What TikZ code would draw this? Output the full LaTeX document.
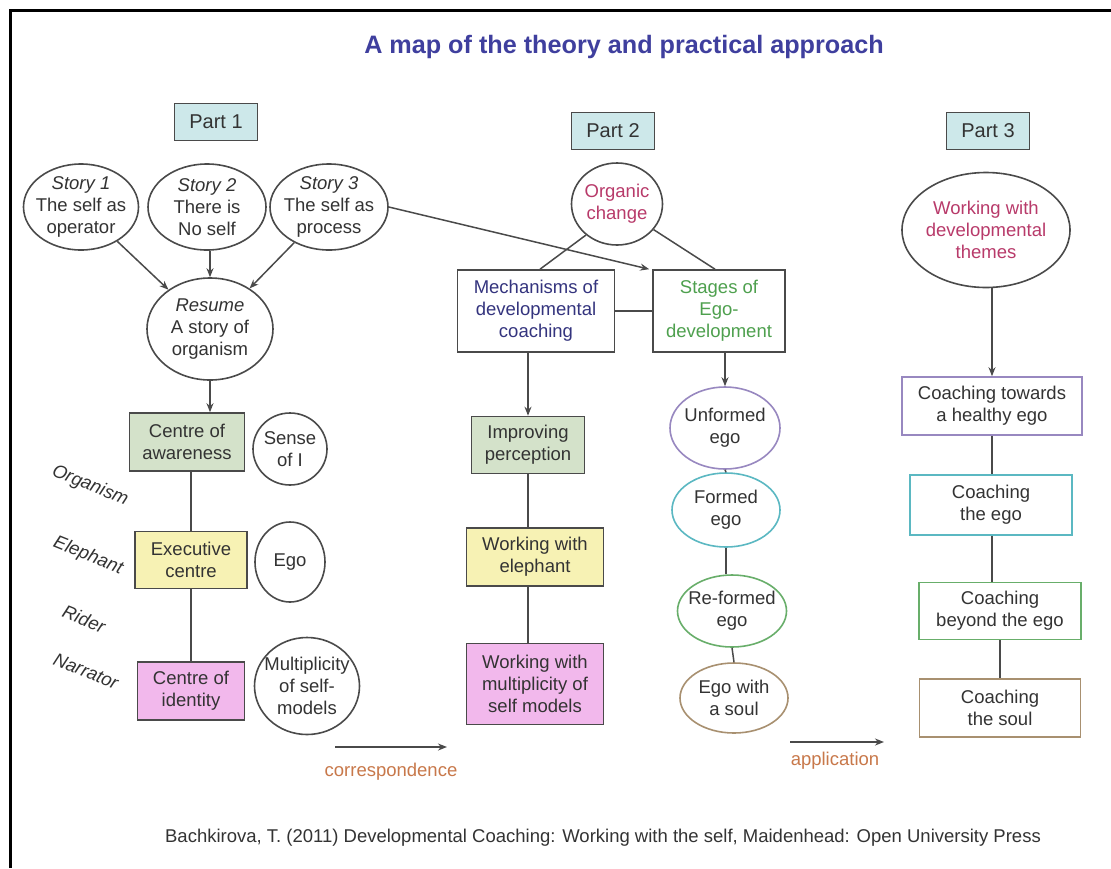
\documentclass[tikz,border=0pt]{standalone}
\usepackage{fontspec}
\setmainfont{Liberation Sans}
\usetikzlibrary{shapes.geometric,arrows.meta,calc}

\definecolor{ink}{HTML}{333333}
\definecolor{edgec}{HTML}{4A4A4A}
\definecolor{titleblue}{HTML}{3F3F9E}
\definecolor{partfill}{HTML}{CDE8EA}
\definecolor{greenfill}{HTML}{D4E2CA}
\definecolor{yellowfill}{HTML}{F7F2B4}
\definecolor{pinkfill}{HTML}{F2B8EC}
\definecolor{crimson}{HTML}{B83A6A}
\definecolor{navy}{HTML}{34347E}
\definecolor{leaf}{HTML}{4EA04E}
\definecolor{lilac}{HTML}{9888C0}
\definecolor{tealc}{HTML}{5BB8C2}
\definecolor{sage}{HTML}{68AE6A}
\definecolor{tanc}{HTML}{A89070}
\definecolor{rust}{HTML}{C8784A}

\newcommand\diagfont{\fontsize{18.5}{22}\selectfont}
\newcommand\partfont{\fontsize{20}{24}\selectfont}

\tikzset{
  every node/.style={font=\diagfont, text=ink},
  oval/.style={ellipse, draw=edgec, line width=1.6pt, inner sep=-30pt, align=center},
  box/.style={rectangle, draw=edgec, line width=1.6pt, inner sep=2pt, align=center},
  partbox/.style={box, fill=partfill, minimum width=83pt, minimum height=37pt, font=\partfont},
  link/.style={draw=edgec, line width=1.5pt},
  arr/.style={link, -{Stealth[length=9pt,width=7pt]}},
  side/.style={font=\diagfont\itshape, rotate=-22},
  note/.style={text=rust},
}

\begin{document}
\begin{tikzpicture}[x=1pt,y=-1pt]
  \useasboundingbox (0,0) rectangle (1111,868);
  \fill[white] (0,0) rectangle (1111,868);
  % frame
  \draw[line width=3pt, black] (10,868) -- (10,10) -- (1111,10);

  % title
  \node[font=\fontsize{25.2}{29}\selectfont\bfseries, text=titleblue] (title) at (624,47) {A map of the theory and practical approach};

  % part headers
  \node[partbox] (p1) at (216,122) {Part 1};
  \node[partbox] (p2) at (613,131) {Part 2};
  \node[partbox] (p3) at (988,131) {Part 3};

  % ---- Part 1 ----
  \node[oval, minimum width=115pt, minimum height=86pt] (s1) at (81,207) {\textit{Story 1}\\The self as\\operator};
  \node[oval, minimum width=118pt, minimum height=86pt] (s2) at (207,207) {\textit{Story 2}\\There is\\No self};
  \node[oval, minimum width=118pt, minimum height=86pt] (s3) at (329,207) {\textit{Story 3}\\The self as\\process};
  \node[oval, minimum width=126pt, minimum height=102pt] (res) at (210,329) {\textit{Resume}\\A story of\\organism};

  \node[box, fill=greenfill, minimum width=115pt, minimum height=58pt] (ca) at (187,442) {Centre of\\awareness};
  \node[box, fill=yellowfill, minimum width=112pt, minimum height=57pt] (ec) at (191,560) {Executive\\centre};
  \node[box, fill=pinkfill, minimum width=107pt, minimum height=58pt] (ci) at (191,691) {Centre of\\identity};

  \node[oval, minimum width=74pt, minimum height=72pt] (si) at (290,449) {Sense\\of I};
  \node[oval, minimum width=70pt, minimum height=80pt] (eg) at (290,562) {Ego};
  \node[oval, minimum width=105pt, minimum height=97pt] (ms) at (307,686) {Multiplicity\\of self-\\models};

  \node[side] (l1) at (90,486) {Organism};
  \node[side] (l2) at (88,556) {Elephant};
  \node[side] (l3) at (84,619) {Rider};
  \node[side] (l4) at (86,671) {Narrator};

  \draw[arr] (s1) -- (res);
  \draw[arr] (res.north |- s2.south) -- (res.north);
  \draw[arr] (s3) -- (res);
  \draw[arr] (res.south) -- (res.south |- ca.north);
  \draw[link] (ec.north |- ca.south) -- (ec.north);
  \draw[link] (ec.south) -- (ec.south |- ci.north);

  % ---- Part 2 ----
  \node[oval, minimum width=91pt, minimum height=82pt, text=crimson] (oc) at (617,204) {Organic\\change};
  \node[box, minimum width=157pt, minimum height=82pt, text=navy] (mech) at (536,311) {Mechanisms of\\developmental\\coaching};
  \node[box, minimum width=132pt, minimum height=82pt, text=leaf] (st) at (719,311) {Stages of\\Ego-\\development};

  \node[box, fill=greenfill, minimum width=113pt, minimum height=57pt] (ip) at (528,445) {Improving\\perception};
  \node[box, fill=yellowfill, minimum width=137pt, minimum height=58pt] (we) at (535,557) {Working with\\elephant};
  \node[box, fill=pinkfill, minimum width=137pt, minimum height=81pt] (wm) at (535,684) {Working with\\multiplicity of\\self models};

  \node[oval, draw=lilac, minimum width=110pt, minimum height=82pt] (uf) at (725,428) {Unformed\\ego};
  \node[oval, draw=tealc, minimum width=108pt, minimum height=74pt] (fe) at (726,510) {Formed\\ego};
  \node[oval, draw=sage, minimum width=109pt, minimum height=72pt] (rf) at (732,611) {Re-formed\\ego};
  \node[oval, draw=tanc, minimum width=108pt, minimum height=70pt] (es) at (734,698) {Ego with\\a soul};

  \draw[link] (oc.225) -- ($(mech.north)+(4,0)$);
  \draw[link] (oc.-35) -- ($(st.north)+(-4,0)$);
  \draw[link] (mech.east) -- (st.west);
  \draw[arr] (s3.east) -- ($(st.north west)+(-3,0)$);
  \draw[arr] (ip.north |- mech.south) -- (ip.north);
  \draw[link] (ip.south) -- (ip.south |- we.north);
  \draw[link] (ip.south |- we.south) -- (ip.south |- wm.north);
  \draw[arr] (uf.north |- st.south) -- (uf.north);
  \draw[link] (uf.south) -- (fe.north);
  \draw[link] (fe.south) -- (fe.south |- rf.north);
  \draw[link] (rf.south) -- (es.north);

  % ---- Part 3 ----
  \node[oval, minimum width=168pt, minimum height=115pt, text=crimson] (th) at (986,230) {Working with\\developmental\\themes};
  \node[box, draw=lilac, minimum width=180pt, minimum height=58pt] (hg) at (992,406) {Coaching towards\\a healthy ego};
  \node[box, draw=tealc, minimum width=162pt, minimum height=60pt] (ce) at (991,505) {Coaching\\the ego};
  \node[box, draw=sage, minimum width=162pt, minimum height=57pt] (be) at (1000,611) {Coaching\\beyond the ego};
  \node[box, draw=tanc, minimum width=161pt, minimum height=58pt] (so) at (1000,708) {Coaching\\the soul};

  \draw[arr] (hg.north |- th.south) -- (hg.north);
  \draw[link] (hg.south) -- (hg.south |- ce.north);
  \draw[link] (hg.south |- ce.south) -- (hg.south |- be.north);
  \draw[link] (be.south) -- (so.north);

  % ---- relations between parts ----
  \coordinate (corrA) at (335,747);
  \coordinate (corrB) at (447,747);
  \draw[arr] (corrA) -- (corrB);
  \node[note] (corr) at (391,772) {correspondence};
  \coordinate (appA) at (790,742);
  \coordinate (appB) at (884,742);
  \draw[arr] (appA) -- (appB);
  \node[note] (app) at (835,761) {application};

  % reference
  \node (cite) at (603,838) {Bachkirova, T. (2011) Developmental Coaching: Working with the self, Maidenhead: Open University Press};
\end{tikzpicture}
\end{document}
